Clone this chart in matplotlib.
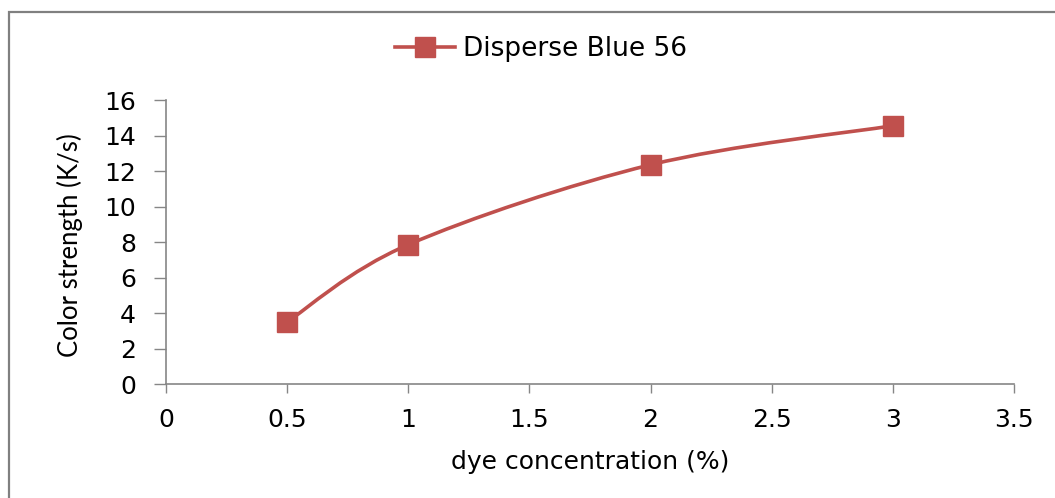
import matplotlib
matplotlib.use('Agg')
import matplotlib.pyplot as plt
from matplotlib.path import Path
from matplotlib.patches import PathPatch, Rectangle
from matplotlib.lines import Line2D
import numpy as np

# data
concentration = [0.5, 1, 2, 3]
color_strength = [3.5, 7.85, 12.35, 14.55]
series_name = 'Disperse Blue 56'

red = '#C0504D'
axis_grey = '#868686'


def smooth_path(x, y):
    # excel style smoothed line: catmull-rom turned into bezier segments
    pts = np.column_stack([x, y]).astype(float)
    padded = np.vstack([pts[0], pts, pts[-1]])
    verts = [tuple(pts[0])]
    codes = [Path.MOVETO]
    for i in range(len(pts) - 1):
        p0, p1, p2, p3 = padded[i], padded[i + 1], padded[i + 2], padded[i + 3]
        c1 = p1 + (p2 - p0) / 6.0
        c2 = p2 - (p3 - p1) / 6.0
        verts += [tuple(c1), tuple(c2), tuple(p2)]
        codes += [Path.CURVE4] * 3
    return Path(verts, codes)


fig = plt.figure(figsize=(10.55, 4.98), dpi=100)
ax = fig.add_axes([166 / 1055, 114 / 498, 848 / 1055, 284 / 498])

# the curve and the markers
ax.add_patch(PathPatch(smooth_path(concentration, color_strength), facecolor='none',
                       edgecolor=red, lw=2.6, zorder=2))
ax.plot(concentration, color_strength, linestyle='none', marker='s', markersize=14,
        color=red, markeredgecolor=red, zorder=3)

ax.set_xlim(0, 3.5)
ax.set_ylim(0, 16)
ax.set_xticks(np.arange(0, 3.51, 0.5))
ax.set_xticklabels(['0', '0.5', '1', '1.5', '2', '2.5', '3', '3.5'])
ax.set_yticks(np.arange(0, 17, 2))

for side in ['top', 'right']:
    ax.spines[side].set_visible(False)
for side in ['left', 'bottom']:
    ax.spines[side].set_color(axis_grey)
    ax.spines[side].set_linewidth(1.2)

ax.tick_params(axis='x', direction='out', length=6.5, width=1, color=axis_grey,
               pad=11, labelsize=18, labelcolor='black')
ax.tick_params(axis='y', direction='out', length=8.6, width=1, color=axis_grey,
               pad=13, labelsize=18, labelcolor='black')

ax.set_xlabel('dye concentration (%)', fontsize=18)
ax.xaxis.set_label_coords(0.5, -0.275)
ax.xaxis.label.set_va('center')
ax.set_ylabel('Color strength (K/s)', fontsize=18.5, family='Lato')
ax.yaxis.set_label_coords(-0.113, 0.49)
ax.yaxis.label.set_va('center')

handle = Line2D([], [], color=red, lw=2.6, marker='s', markersize=14,
                markeredgecolor=red)
fig.legend([handle], [series_name], loc='center', bbox_to_anchor=(541 / 1055, 1 - 49 / 498),
           frameon=False, fontsize=19, handlelength=2.3, handletextpad=0.3)

# outer chart border (only top and left edges fall inside the picture)
fig.patches.append(Rectangle((9 / 1055, -0.2), 1.2, 1.2 - 12 / 498,
                             transform=fig.transFigure, fill=False,
                             edgecolor='#808080', lw=1.6))

fig.savefig('out.png', dpi=100)
